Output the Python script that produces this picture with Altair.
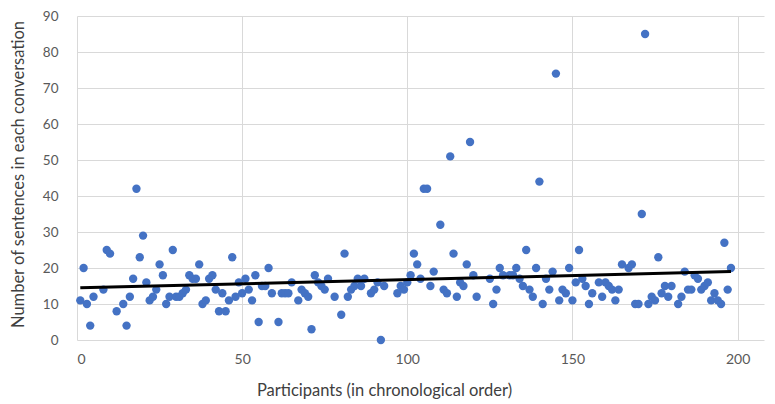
import altair as alt
import pandas as pd

participant = [1, 2, 3, 4, 5, 8, 9, 10, 12, 14, 15, 16, 17, 18, 19, 20,
               21, 22, 23, 24, 25, 26, 27, 28, 29, 30, 31, 32, 33, 34, 35, 36,
               37, 38, 39, 40, 41, 42, 43, 44, 45, 46, 47, 48, 49, 50, 51, 52,
               53, 54, 55, 56, 57, 58, 59, 61, 62, 63, 64, 65, 67, 68, 69, 70,
               71, 72, 73, 74, 75, 76, 78, 80, 81, 82, 83, 84, 85, 86, 87, 89,
               90, 91, 92, 93, 97, 98, 99, 100, 101, 102, 103, 104, 105, 106, 107, 108,
               110, 111, 112, 113, 114, 115, 116, 117, 118, 119, 120, 121, 125, 126, 127, 128,
               129, 131, 132, 133, 134, 135, 136, 137, 138, 139, 140, 141, 142, 143, 144, 145,
               146, 147, 148, 149, 150, 151, 152, 153, 154, 155, 156, 158, 159, 160, 161, 162,
               163, 164, 165, 167, 168, 169, 170, 171, 172, 173, 174, 175, 176, 177, 178, 179,
               180, 182, 183, 184, 185, 186, 187, 188, 189, 190, 191, 192, 193, 194, 195, 196,
               197, 198]
sentences = [11, 20, 10, 4, 12, 14, 25, 24, 8, 10, 4, 12, 17, 42, 23, 29,
             16, 11, 12, 14, 21, 18, 10, 12, 25, 12, 12, 13, 14, 18, 17, 17,
             21, 10, 11, 17, 18, 14, 8, 13, 8, 11, 23, 12, 16, 13, 17, 14,
             11, 18, 5, 15, 15, 20, 13, 5, 13, 13, 13, 16, 11, 14, 13, 12,
             3, 18, 16, 15, 14, 17, 12, 7, 24, 12, 14, 15, 17, 15, 17, 13,
             14, 16, 0, 15, 13, 15, 14, 16, 18, 24, 21, 17, 42, 42, 15, 19,
             32, 14, 13, 51, 24, 12, 16, 15, 21, 55, 18, 12, 17, 10, 14, 20,
             18, 18, 18, 20, 17, 15, 25, 14, 12, 20, 44, 10, 17, 14, 19, 74,
             11, 14, 13, 20, 11, 16, 25, 17, 15, 10, 13, 16, 12, 16, 15, 14,
             11, 14, 21, 20, 21, 10, 10, 35, 85, 10, 12, 11, 23, 13, 15, 12,
             15, 10, 12, 19, 14, 14, 18, 17, 14, 15, 16, 11, 13, 11, 10, 27,
             14, 20]

trend_x = [1, 198]
trend_y = [14.5, 19.0]

x_ticks = [0, 50, 100, 150, 200]
y_ticks = [0, 10, 20, 30, 40, 50, 60, 70, 80, 90]

df = pd.DataFrame({"participant": participant, "sentences": sentences})
trend = pd.DataFrame({"participant": trend_x, "sentences": trend_y})

FONT = "Lato"

x_enc = alt.X(
    "participant:Q",
    scale=alt.Scale(domain=[0, 208], nice=False, zero=False),
    axis=alt.Axis(
        values=x_ticks,
        title="Participants (in chronological order)",
        grid=True, gridColor="#D9D9D9", gridWidth=1,
        domain=False, ticks=False, labelOverlap=False,
        labelColor="#595959", labelFont=FONT, labelFontSize=14,
        labelPadding=12,
        titleColor="#404040", titleFont=FONT, titleFontSize=16.5, titleFontWeight="normal",
        titleBaseline="alphabetic", titleAlign="center",
        titleX=307, titleY=55,
    ),
)
y_enc = alt.Y(
    "sentences:Q",
    scale=alt.Scale(domain=[0, 90], nice=False),
    axis=alt.Axis(
        values=y_ticks,
        tickCount=10,
        title="Number of sentences in each conversation",
        grid=True, gridColor="#D9D9D9", gridWidth=1,
        domain=False, ticks=False, labelOverlap=False,
        labelColor="#595959", labelFont=FONT, labelFontSize=13.5,
        labelPadding=19,
        titleColor="#404040", titleFont=FONT, titleFontSize=16.5, titleFontWeight="normal",
        titleBaseline="alphabetic", titleAlign="center", titleAngle=270,
        titleX=-54, titleY=158,
    ),
)

points = alt.Chart(df).mark_circle(size=70, opacity=1, color="#4472C4").encode(
    x=x_enc, y=y_enc
)

line = alt.Chart(trend).mark_line(color="#000000", strokeWidth=3).encode(
    x=x_enc, y=y_enc
)

chart = (
    alt.layer(points, line)
    .properties(
        width=687,
        height=324,
        autosize=alt.AutoSizeParams(type="none"),
        padding={"left": 69, "top": 8, "right": 2, "bottom": 64},
    )
    .configure_view(stroke=None)
)

chart.save("out.html", embed_options={"renderer": "svg", "actions": False})
